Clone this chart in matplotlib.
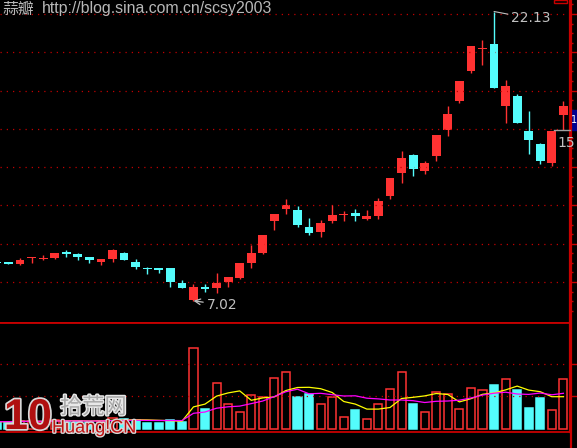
import numpy as np
import pandas as pd
import matplotlib
matplotlib.use('Agg')
import matplotlib.pyplot as plt
from matplotlib.patches import Rectangle
from matplotlib.lines import Line2D
import matplotlib.patheffects as pe

# daily k-line
opens = [9.07, 9.04, 8.96, 9.24, 9.20, 9.27, 9.55, 9.46, 9.31, 9.05,
         9.20, 9.52, 9.05, 8.73, 8.73, 8.73, 7.95, 7.06, 7.74, 7.69,
         8.00, 8.21, 8.99, 9.52, 11.19, 11.81, 11.76, 10.87, 10.61, 11.19,
         11.50, 11.61, 11.29, 11.45, 12.49, 13.69, 14.64, 13.80, 14.58, 15.94,
         17.46, 19.02, 20.17, 20.43, 17.19, 17.72, 15.89, 15.21, 14.22, 16.72]
closes = [9.00, 8.96, 9.17, 9.29, 9.26, 9.52, 9.45, 9.31, 9.15, 9.20,
          9.67, 9.15, 8.78, 8.68, 8.63, 8.02, 7.69, 7.74, 7.64, 7.95,
          8.26, 8.99, 9.52, 10.46, 11.55, 12.02, 10.98, 10.56, 11.08, 11.50,
          11.55, 11.45, 11.45, 12.23, 13.43, 14.48, 13.90, 14.22, 15.68, 16.78,
          18.50, 20.33, 20.21, 18.13, 18.24, 16.31, 15.42, 14.32, 15.89, 17.19]
highs = [9.10, 9.05, 9.26, 9.32, 9.41, 9.52, 9.67, 9.52, 9.31, 9.20,
         9.73, 9.57, 9.20, 8.78, 8.73, 8.73, 8.11, 7.90, 7.90, 8.47,
         8.26, 8.99, 9.93, 10.46, 11.55, 12.34, 11.97, 11.34, 11.24, 12.02,
         11.71, 11.81, 11.76, 12.39, 13.43, 14.84, 14.69, 14.32, 15.68, 17.19,
         18.50, 20.33, 20.64, 22.13, 18.55, 17.82, 16.93, 15.26, 15.89, 17.46]
lows = [8.97, 8.95, 8.89, 9.01, 9.15, 9.20, 9.32, 9.15, 8.99, 8.89,
        9.05, 9.15, 8.68, 8.42, 8.47, 7.76, 7.69, 7.02, 7.48, 7.43,
        7.74, 8.16, 8.73, 9.46, 10.72, 11.55, 10.87, 10.46, 10.35, 11.08,
        11.19, 11.19, 11.24, 11.29, 12.34, 13.17, 13.54, 13.64, 14.32, 15.63,
        17.35, 18.92, 19.34, 18.13, 16.31, 16.31, 14.69, 14.17, 14.06, 15.94]
vols = [7, 7, 8, 8, 7, 9, 8, 8, 7, 8,
        11, 10, 9, 6, 6, 9, 7, 81, 20, 46,
        25, 17, 34, 32, 51, 57, 32, 35, 25, 32,
        12, 19, 10, 25, 40, 57, 25, 17, 37, 35,
        20, 41, 39, 44, 50, 39, 21, 31, 19, 50]

price_grid = [8, 10, 12, 14, 16, 18, 20, 22]
vol_grid = [33, 65]

RED = '#ff3232'
CYAN = '#54fcfc'
AXRED = '#c80000'
GRIDRED = '#c00000'
GREY = '#c0c0c0'

W, H = 577, 448
fig = plt.figure(figsize=(W / 100, H / 100), dpi=100, facecolor='black')

x = np.arange(len(opens))
o = np.array(opens)
c = np.array(closes)
up = c >= o
colors = np.where(up, RED, CYAN)

ax = fig.add_axes([0, (H - 322.5) / H, 570 / W, 322.5 / H], facecolor='black')
vax = fig.add_axes([0, (H - 432) / H, 570 / W, 109.5 / H], facecolor='black', sharex=ax)

# candles
ax.vlines(x, lows, highs, colors=colors, linewidth=1)
body_h = np.maximum(np.abs(c - o), 0.05)
ax.bar(x, body_h, bottom=np.minimum(o, c), width=0.76, color=colors, linewidth=0)

ax.set_xlim(0.265, 49.57)
ax.set_ylim(5.886, 22.731)
ax.set_yticks(price_grid)
ax.set_yticks(np.arange(6.5, 22.6, 0.5), minor=True)
ax.grid(axis='y', color=GRIDRED, linestyle=(0, (1, 4)), linewidth=0.9)
ax.yaxis.tick_right()
ax.tick_params(axis='y', which='major', colors=AXRED, length=5, width=1, labelright=False)
ax.tick_params(axis='y', which='minor', colors=AXRED, length=2.5, width=1)
ax.tick_params(axis='x', bottom=False, labelbottom=False)
for s in ['top', 'left']:
    ax.spines[s].set_visible(False)
ax.spines['right'].set_color(AXRED)
ax.spines['right'].set_linewidth(1.6)
ax.spines['bottom'].set_color(AXRED)
ax.spines['bottom'].set_linewidth(1.3)

# high / low marks
ax.annotate('22.13', xy=(43, 22.13), xytext=(12, -5), textcoords='offset points',
            color=GREY, fontsize=10, family='DejaVu Sans', ha='left', va='center',
            arrowprops=dict(arrowstyle='-', color=GREY, lw=0.8, shrinkA=0, shrinkB=0))
ax.annotate('7.02', xy=(17, 7.02), xytext=(10, -3), textcoords='offset points',
            color=GREY, fontsize=10, family='DejaVu Sans', ha='left', va='center',
            arrowprops=dict(arrowstyle='->', color=GREY, lw=0.9, shrinkA=1, shrinkB=0))

# volume
vfc = np.where(up, 'black', CYAN)
vax.bar(x, vols, width=0.7, color=vfc, edgecolor=colors, linewidth=1.1)
ma5 = pd.Series(vols).rolling(5, min_periods=1).mean()
ma10 = pd.Series(vols).rolling(10, min_periods=1).mean()
vax.plot(x, ma5, color='#ffff00', linewidth=0.9)
vax.plot(x, ma10, color='#ff00ff', linewidth=0.9)
vax.set_ylim(-3.3, 106.2)
vax.set_yticks(vol_grid)
vax.grid(axis='y', color=GRIDRED, linestyle=(0, (1, 4)), linewidth=0.9)
vax.yaxis.tick_right()
vax.tick_params(axis='y', colors=AXRED, length=5, width=1, labelright=False)
vax.tick_params(axis='x', bottom=False, labelbottom=False)
vax.spines['left'].set_visible(False)
for s in ['top', 'bottom', 'right']:
    vax.spines[s].set_color(AXRED)
vax.spines['top'].set_linewidth(1.3)
vax.spines['bottom'].set_linewidth(1.3)
vax.spines['right'].set_linewidth(1.6)

# right frame line to the bottom edge and small markers
fig.add_artist(Line2D([570.5 / W, 570.5 / W], [0, 1], color=AXRED, linewidth=1.6))
fig.add_artist(Rectangle((554 / W, (H - 3) / H), 13 / W, 3 / H, fill=False,
                         edgecolor=AXRED, linewidth=1))
fig.add_artist(Rectangle((571.5 / W, (H - 130) / H), 5.5 / W, 20 / H,
                         facecolor='#000090', edgecolor='#000090'))
fig.text(574 / W, (H - 120) / H, '1', color='white', fontsize=7, va='center', ha='center')
fig.add_artist(Line2D([554 / W, 570 / W], [(H - 130) / H, (H - 130) / H],
                      color='#a0a0a0', linewidth=1))
fig.text(557 / W, (H - 143) / H, '15', color=GREY, fontsize=10,
         family='DejaVu Sans', va='center', ha='left')

# header text
fig.text(2 / W, (H - 9) / H, '蒜瓣', color='#b8b8b8', fontsize=11.4,
         family=['Noto Sans CJK SC', 'DejaVu Sans'], va='center', ha='left')
fig.text(42 / W, (H - 9) / H, 'http://blog.sina.com.cn/scsy2003', color='#b8b8b8',
         fontsize=11.4, family='Liberation Sans', va='center', ha='left')

# site logo in the lower left
stroke = [pe.withStroke(linewidth=2.5, foreground='#d8d8d8')]
fig.text(4 / W, (H - 418) / H, '10', color='#b01010', fontsize=31, fontweight='bold',
         family='Liberation Sans', va='center', ha='left', path_effects=stroke)
fig.text(60 / W, (H - 407) / H, '拾荒网', color='#a8a8a8', fontsize=16,
         family=['Noto Sans CJK SC', 'DejaVu Sans'], va='center', ha='left',
         path_effects=[pe.withStroke(linewidth=2, foreground='#e8e8e8')])
fig.text(52 / W, (H - 428) / H, 'Huang!CN', color='#c01010', fontsize=13,
         family='Liberation Sans', va='center', ha='left',
         path_effects=[pe.withStroke(linewidth=2, foreground='#d8d8d8')])

fig.savefig('out.png', dpi=100, facecolor='black')
